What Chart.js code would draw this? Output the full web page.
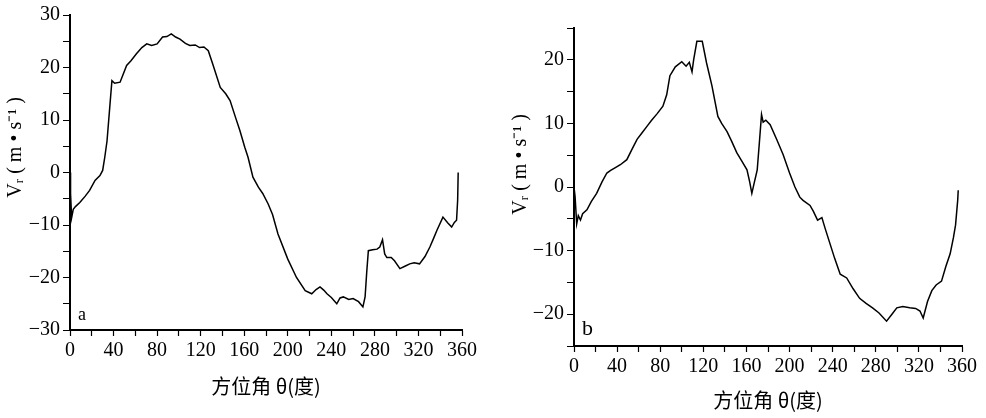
<!DOCTYPE html>
<html lang="zh">
<head>
    <meta charset="UTF-8">
    <title>Vr vs azimuth</title>
    <script src="https://cdn.jsdelivr.net/npm/chart.js"></script>
    <style>
        body {
            margin: 0;
            background: #fff;
        }
        .wrap {
            position: relative;
            width: 986px;
            height: 418px;
        }
        canvas {
            position: absolute;
            top: 0;
        }
        #chartA { left: 0; }
        #chartB { left: 493px; }
    </style>
</head>
<body>
<div class="wrap">
    <canvas id="chartA" width="493" height="418"></canvas>
    <canvas id="chartB" width="493" height="418"></canvas>
</div>
<script>
// panel a
const thetaA = [0, 0.5, 1.5, 3, 5, 9, 14, 18, 23, 27.5, 30, 32, 34, 37, 38.5, 41, 46, 52, 56, 61, 66, 70.5, 75, 80, 85, 89, 93, 97, 101, 106, 110, 115, 119, 123, 127, 131, 138, 143, 147, 152, 156, 160.5, 163.5, 168, 173, 177, 182, 186, 191, 200, 208, 216, 222, 226, 229.6, 233, 236, 240, 245, 248, 251, 256, 260, 265, 269, 271, 272.5, 274, 278, 282, 284.5, 287, 289, 291, 295, 298, 303, 308, 312, 316, 321, 326, 330.5, 334, 337, 342.5, 347, 350.5, 353, 355, 356, 356.5];
const vrA = [0, -4, -8.6, -7, -6.5, -5.7, -4.5, -3.4, -1.5, -0.6, 0.4, 3, 6, 13.7, 17.5, 17, 17.2, 20.4, 21.3, 22.6, 23.8, 24.5, 24.2, 24.5, 25.8, 25.9, 26.4, 25.8, 25.4, 24.6, 24.2, 24.3, 23.8, 23.9, 23.2, 20.7, 16.2, 15, 13.7, 10.5, 8, 4.8, 2.9, -0.9, -2.8, -4, -6, -8, -11.7, -16.5, -20, -22.5, -23.1, -22.3, -21.8, -22.4, -23.1, -23.8, -25, -23.9, -23.7, -24.2, -24, -24.6, -25.6, -23.7, -19, -14.9, -14.7, -14.6, -14.2, -12.8, -15.5, -16.2, -16.2, -16.8, -18.3, -17.8, -17.4, -17.2, -17.4, -16, -14.2, -12.5, -11, -8.5, -9.6, -10.4, -9.5, -9.1, -5.3, 0];

// panel b
const thetaB = [0, 1, 2.5, 4, 6, 8, 12, 16, 21, 26, 30.5, 34, 38, 43, 49, 54, 58.5, 63, 67.5, 72, 77, 82.5, 86, 89, 94, 100, 104, 107, 109.5, 111, 114, 119, 123, 128, 133.5, 137, 142, 146, 151, 156, 160.5, 163, 165, 167, 170, 172, 174, 175.5, 178, 182, 188, 194, 200, 205, 209.5, 212.5, 219, 222, 226, 230, 233, 237.5, 242, 247, 253, 259, 265, 271, 277, 283, 290, 295, 299.5, 305, 311.5, 317, 321, 324, 328, 332, 336, 341, 345, 349, 352, 354, 356, 356.5];
const vrB = [0, -1.5, -5.8, -4.5, -5.2, -4.2, -3.6, -2.3, -1, 0.8, 2.2, 2.6, 3, 3.5, 4.3, 6, 7.5, 8.5, 9.5, 10.5, 11.5, 12.7, 14.5, 17.5, 18.9, 19.7, 19, 19.6, 18.1, 20, 22.9, 22.9, 19.5, 15.9, 11.1, 10, 8.7, 7.3, 5.4, 4, 2.7, 0.8, -1, 0.5, 2.7, 7, 11.4, 10.2, 10.5, 9.8, 7.5, 5.1, 2.2, 0, -1.6, -2.1, -2.9, -3.8, -5.2, -4.8, -6.5, -8.9, -11.3, -13.7, -14.3, -16, -17.5, -18.3, -19, -19.8, -21.1, -20, -19, -18.8, -19, -19.1, -19.5, -20.6, -18, -16.3, -15.4, -14.8, -12.5, -10.5, -8, -6, -2.1, -0.5];

const xTitle = '方位角 θ(度)';
const yTitle = 'Vᵣ ( m • s⁻¹ )';

const tickFont = { family: 'Liberation Serif', size: 20 };
const titleFont = { family: '"Noto Sans CJK SC", serif', size: 20 };

function toPoints(xs, ys) {
    return xs.map((x, i) => ({ x: x, y: ys[i] }));
}

// small panel letter (a / b) in the lower-left corner of the plot
const panelLetter = {
    id: 'panelLetter',
    afterDraw(chart, args, opts) {
        const ctx = chart.ctx;
        const a = chart.chartArea;
        ctx.save();
        ctx.fillStyle = '#000';
        ctx.font = opts.size + 'px "Liberation Serif"';
        ctx.textBaseline = 'bottom';
        ctx.fillText(opts.text, a.left + opts.dx, a.bottom - opts.dy);
        ctx.restore();
    }
};

function makeChart(id, xs, ys, cfg) {
    return new Chart(document.getElementById(id), {
        type: 'line',
        data: {
            datasets: [{
                data: toPoints(xs, ys),
                borderColor: '#000',
                borderWidth: 1.5,
                pointRadius: 0,
                tension: 0,
                fill: false
            }]
        },
        options: {
            responsive: false,
            animation: false,
            layout: { padding: { top: cfg.top, right: cfg.right, left: 0, bottom: 0 } },
            plugins: {
                legend: { display: false },
                tooltip: { enabled: false },
                panelLetter: { text: cfg.letter, dx: 8, dy: 6, size: cfg.letterSize }
            },
            scales: {
                x: {
                    type: 'linear',
                    min: 0,
                    max: 360,
                    afterFit: s => { s.height = cfg.xHeight; },
                    border: { color: '#000', width: 2 },
                    grid: { drawOnChartArea: false, color: '#000', tickLength: 6, tickWidth: 1.2 },
                    ticks: {
                        stepSize: 20,
                        autoSkip: false,
                        maxRotation: 0,
                        color: '#000',
                        font: tickFont,
                        padding: cfg.xTickPad,
                        callback: v => (v % 40 === 0 ? String(v) : '')
                    },
                    title: {
                        display: true,
                        text: xTitle,
                        color: '#000',
                        font: titleFont,
                        padding: { top: 0, bottom: cfg.xTitlePad }
                    }
                },
                y: {
                    min: cfg.ymin,
                    max: cfg.ymax,
                    afterFit: s => { s.width = cfg.yWidth; },
                    border: { color: '#000', width: 2 },
                    grid: { drawOnChartArea: false, color: '#000', tickLength: 7, tickWidth: 1 },
                    ticks: {
                        stepSize: 5,
                        autoSkip: false,
                        color: '#000',
                        font: tickFont,
                        padding: 3,
                        callback: v => (v % 10 === 0 ? String(v).replace('-', '−') : '')
                    },
                    title: {
                        display: true,
                        // leading spaces lift the rotated title a little above the axis centre
                        text: cfg.yLift + yTitle,
                        color: '#000',
                        font: { family: '"Liberation Serif", serif', size: 20 },
                        padding: { top: cfg.yTitlePad, bottom: 0 }
                    }
                }
            }
        },
        plugins: [panelLetter]
    });
}

makeChart('chartA', thetaA, vrA, {
    letter: 'a', letterSize: 18, top: 15, right: 31, xHeight: 88, yWidth: 70,
    ymin: -30, ymax: 30, xTickPad: 3, xTitlePad: 20, yTitlePad: 4, yLift: '          '
});
makeChart('chartB', thetaB, vrB, {
    letter: 'b', letterSize: 22, top: 28, right: 24, xHeight: 72, yWidth: 81,
    ymin: -25, ymax: 25, xTickPad: 3, xTitlePad: 6, yTitlePad: 16, yLift: '         '
});
</script>
</body>
</html>
